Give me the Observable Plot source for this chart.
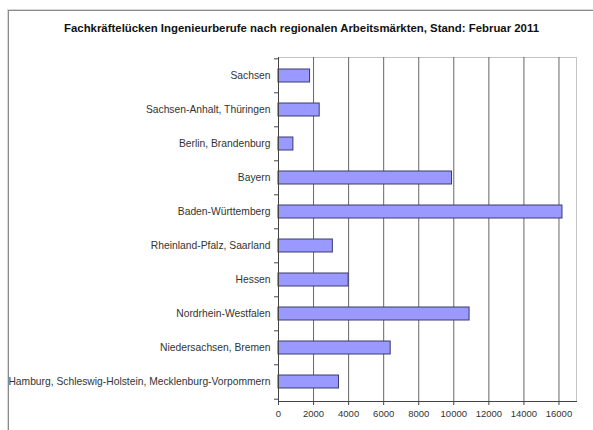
<!DOCTYPE html>
<html>
<head>
<meta charset="utf-8">
<script src="https://cdn.jsdelivr.net/npm/d3@7"></script>
<script src="https://cdn.jsdelivr.net/npm/@observablehq/plot@0.6"></script>
<style>
  html, body { margin: 0; padding: 0; background: #fff; }
  #wrap { position: relative; width: 593px; height: 430px; overflow: hidden; font-family: "Liberation Sans", Arial, sans-serif; }
  #frame { position: absolute; left: 8px; top: 10px; width: 700px; height: 600px; border-left: 1px solid #8a8a8a; border-top: 1px solid #8a8a8a; box-shadow: -1px -1px 0 #d8d8d8; pointer-events: none; }
  #title { height: 44px; box-sizing: border-box; padding-top: 22px; line-height: 12px; font-size: 11.4px; font-weight: bold; text-align: center; color: #111; padding-left: 10px; white-space: nowrap; }
  svg { display: block; }
</style>
</head>
<body>
<div id="wrap">
  <div id="frame"></div>
  <div id="title">Fachkräftelücken Ingenieurberufe nach regionalen Arbeitsmärkten, Stand: Februar 2011</div>
  <div id="chart"></div>
</div>
<script>
const regions = [
  "Sachsen",
  "Sachsen-Anhalt, Thüringen",
  "Berlin, Brandenburg",
  "Bayern",
  "Baden-Württemberg",
  "Rheinland-Pfalz, Saarland",
  "Hessen",
  "Nordrhein-Westfalen",
  "Niedersachsen, Bremen",
  "Hamburg, Schleswig-Holstein, Mecklenburg-Vorpommern"
];
const values = [1800, 2350, 850, 9900, 16200, 3100, 4000, 10900, 6400, 3450];
const xTicks = [0, 2000, 4000, 6000, 8000, 10000, 12000, 14000, 16000];
const xMax = 17000;

const data = regions.map((r, i) => ({region: r, value: values[i]}));

const H = 386, mT = 13, mB = 29;
const step = (H - mT - mB) / regions.length;

const chart = Plot.plot({
  width: 593,
  height: H,
  marginTop: mT,
  marginBottom: mB,
  marginLeft: 278,
  marginRight: 17,
  style: {fontFamily: "'Liberation Sans', Arial, sans-serif", fontSize: "9.5px", color: "#222", background: "#fff"},
  x: {domain: [0, xMax], ticks: xTicks, label: null},
  y: {domain: regions, paddingInner: 0.61, paddingOuter: 0.305, label: null},
  marks: [
    Plot.frame({stroke: "#c4c4c4"}),
    Plot.ruleX(xTicks.filter(d => d > 0), {stroke: "#666", strokeWidth: 1}),
    Plot.barX(data, {x: "value", y: "region", fill: "#9999ff", stroke: "#3a3a6a", strokeWidth: 1}),
    Plot.ruleX([0], {stroke: "#444"}),
    Plot.frame({anchor: "bottom", stroke: "#444"}),
    Plot.ruleY(regions, {y: d => d, x1: 0, x2: 0, insetLeft: -4, dy: -step / 2, stroke: "#444"}),
    Plot.ruleY(regions.slice(-1), {y: d => d, x1: 0, x2: 0, insetLeft: -4, dy: step / 2, stroke: "#444"}),
    Plot.axisX({ticks: xTicks, tickSize: 4, tickPadding: 5, tickFormat: d => String(d), stroke: "#444", fill: "#333", label: null}),
    Plot.axisY({tickSize: 0, tickPadding: 8, fill: "#333", fontSize: "10.3px", label: null})
  ]
});
document.getElementById("chart").appendChild(chart);
</script>
</body>
</html>
